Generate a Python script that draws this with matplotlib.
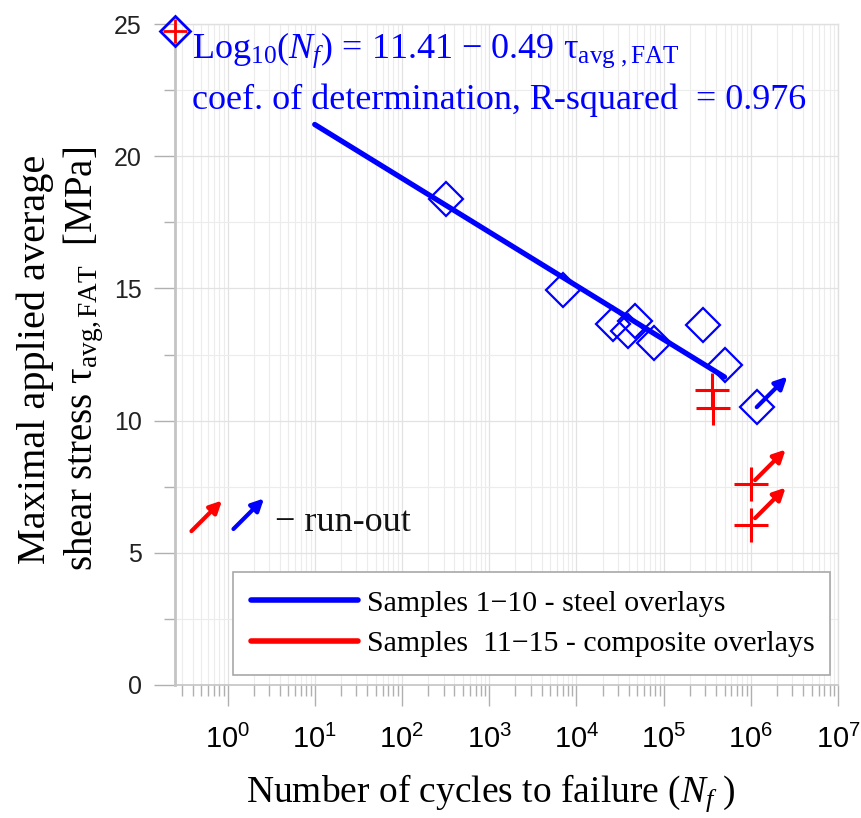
import math
import matplotlib
matplotlib.use("Agg")
import matplotlib.pyplot as plt
from matplotlib.ticker import LogLocator, MultipleLocator, FuncFormatter, NullFormatter
from matplotlib.lines import Line2D

# data
steel_N = [316, 7100, 26000, 46500, 39000, 77000, 282000, 501000, 1.17e6]
steel_tau = [18.4, 14.95, 13.66, 13.77, 13.39, 12.94, 13.62, 12.10, 10.5]
comp_N = [363000, 373000, 1.0e6, 1.0e6]
comp_tau = [11.15, 10.46, 7.6, 6.05]
fit_N = [10, 5.0e5]
fit_tau = [21.2, 11.65]
# run-out arrow tails
runout_steel = [(1.17e6, 10.51)]
runout_comp = [(1.12e6, 7.75), (1.12e6, 6.31)]
corner_pt = (0.25, 24.75)

plt.rcParams['mathtext.fontset'] = 'custom'
plt.rcParams['mathtext.rm'] = 'Liberation Serif'
plt.rcParams['mathtext.it'] = 'Liberation Serif:italic'
plt.rcParams['mathtext.sf'] = 'Liberation Sans'
serif = 'Liberation Serif'
sans = 'Liberation Sans'

fig = plt.figure(figsize=(8.62, 8.18), dpi=100)
ax = fig.add_axes([175 / 862, 1 - 685 / 818, (838 - 175) / 862, (685 - 24) / 818])

ax.set_xscale('log')
ax.set_xlim(0.25, 1e7)
ax.set_ylim(0, 25)

ax.xaxis.set_major_locator(LogLocator(base=10, numticks=20))
ax.xaxis.set_minor_locator(LogLocator(base=10, subs=range(2, 10), numticks=100))
ax.xaxis.set_major_formatter(FuncFormatter(lambda v, p: r'$\mathsf{10^{%d}}$' % round(math.log10(v))))
ax.xaxis.set_minor_formatter(NullFormatter())
ax.yaxis.set_major_locator(MultipleLocator(5))
ax.yaxis.set_minor_locator(MultipleLocator(2.5))

ax.grid(True, which='major', color='#e2e2e2', lw=0.9)
ax.grid(True, which='minor', color='#ececec', lw=0.8)
ax.set_axisbelow(True)

ax.tick_params(axis='x', which='major', direction='out', length=15, width=1, color='#b0b0b0',
               pad=14, labelsize=21)
ax.tick_params(axis='x', which='minor', direction='out', length=8, width=1, color='#b0b0b0')
ax.tick_params(axis='y', which='major', direction='out', length=15, width=1, color='#b0b0b0',
               pad=9, labelsize=18)
ax.tick_params(axis='y', which='minor', direction='out', length=8, width=1, color='#b0b0b0')
for lab in ax.get_yticklabels():
    lab.set_fontfamily(sans)
    lab.set_color('#222222')

ax.spines['left'].set_color('#c4c4c4')
ax.spines['left'].set_linewidth(2)
ax.spines['bottom'].set_color('#c4c4c4')
ax.spines['bottom'].set_linewidth(1.2)
for s in ['top', 'right']:
    ax.spines[s].set_color('#e0e0e0')
    ax.spines[s].set_linewidth(1)

# fit line and points
ax.plot(fit_N, fit_tau, color='blue', lw=3.8, solid_capstyle='round', zorder=3)
ax.plot(steel_N, steel_tau, linestyle='none', marker='D', ms=17, mfc='none', mec='blue', mew=1.6, zorder=4)
ax.plot(comp_N, comp_tau, linestyle='none', marker='+', ms=24, mec='red', mew=2.2, zorder=4)
ax.plot(*corner_pt, marker='D', ms=15, mfc='none', mec='blue', mew=2, clip_on=False, zorder=5)
ax.plot(*corner_pt, marker='+', ms=17, mec='red', mew=2, clip_on=False, zorder=6)


def runout(x, y, c):
    ax.annotate('', xy=(x, y), xytext=(22, 22), textcoords='offset points',
                arrowprops=dict(arrowstyle='<|-', color=c, lw=3, mutation_scale=18,
                                shrinkA=0, shrinkB=0), zorder=5)


for x, y in runout_steel:
    runout(x, y, 'blue')
for x, y in runout_comp:
    runout(x, y, 'red')

# run-out key
runout(0.386, 5.82, 'red')
runout(1.17, 5.9, 'blue')
ax.text(3.5, 6.15, '\u2212 run-out', fontsize=26, family=serif, va='center', ha='left', color='#111111')

# equation
ax.text(0.39, 24.0, 'Log$_{10}$($N_f$) = 11.41 \u2212 0.49 \u03c4$_{\\rm avg\\ ,FAT}$',
        fontsize=26, family=serif, color='blue', va='center', ha='left')
ax.text(0.39, 22.1, 'coef. of determination, R-squared  = 0.976',
        fontsize=26, family=serif, color='blue', va='center', ha='left')

# legend
handles = [Line2D([], [], color='blue', lw=4, solid_capstyle='round'),
           Line2D([], [], color='red', lw=4, solid_capstyle='round')]
leg = ax.legend(handles, ['Samples 1\u221210 - steel overlays', 'Samples  11\u221215 - composite overlays'],
                loc='lower left', bbox_to_anchor=(0.0875, 0.015, 0.90, 0.16), mode='expand',
                borderaxespad=0, prop={'family': serif, 'size': 21.5}, handlelength=3.6,
                handletextpad=0.3, frameon=True, fancybox=False, framealpha=1, edgecolor='#a8a8a8',
                borderpad=0.6, labelspacing=0.45)
leg.get_frame().set_linewidth(1.2)

# axis labels
ax.set_xlabel('Number of cycles to failure ($N_f$ )', fontsize=27, family=serif, labelpad=13)
ax.xaxis.label.set_x(0.476)
fig.text(35 / 862, 1 - 359 / 818, 'Maximal applied average', rotation=90, fontsize=29,
         family=serif, va='center', ha='center')
fig.text(84 / 862, 1 - 359 / 818, 'shear stress \u03c4$_{\\rm avg,FAT}$  [MPa]', rotation=90, fontsize=28,
         family=serif, va='center', ha='center')

fig.savefig('out.png', dpi=100)
